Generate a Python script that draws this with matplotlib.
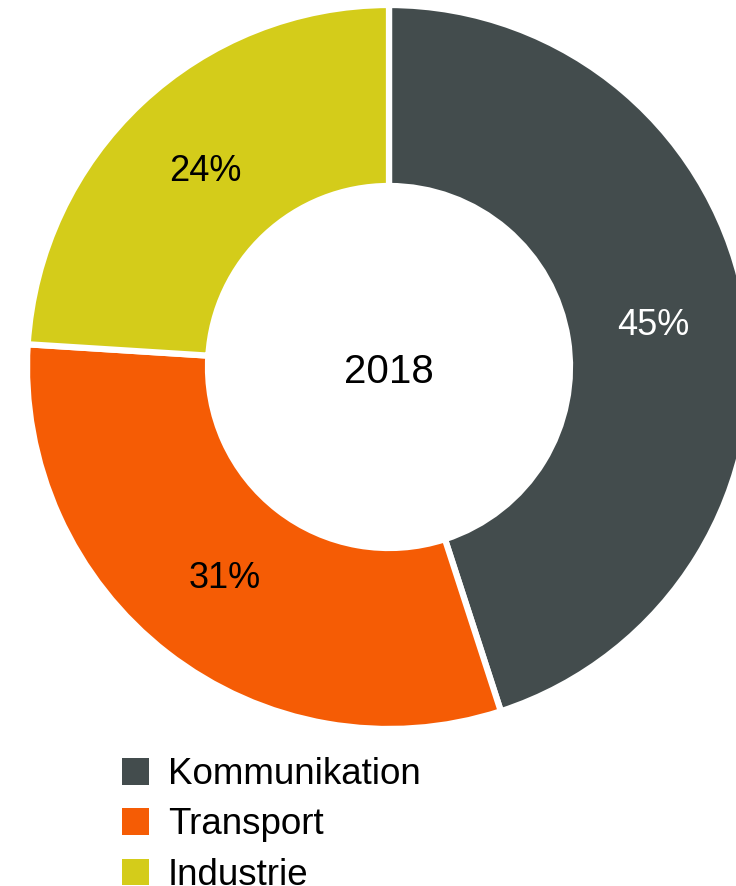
import matplotlib
matplotlib.use("Agg")
import matplotlib.pyplot as plt
from matplotlib.patches import Patch

categories = ["Kommunikation", "Transport", "Industrie"]
values = [45, 31, 24]
colors = ["#434c4d", "#f55c05", "#d4cc1a"]
center_label = "2018"

plt.rcParams['font.family'] = ['Liberation Sans', 'DejaVu Sans']

W, H = 736, 886
fig = plt.figure(figsize=(W / 100, H / 100), dpi=100)
R = 362
cx, cy = 389, 367
ax = fig.add_axes([(cx - R) / W, (H - cy - R) / H, 2 * R / W, 2 * R / H])

wedges, texts, autotexts = ax.pie(
    values, colors=colors, startangle=90, counterclock=False, radius=1,
    wedgeprops=dict(width=0.5, edgecolor='white', linewidth=4.5),
    autopct=lambda p: f"{p:.0f}%", pctdistance=0.74,
    textprops=dict(fontsize=26))
ax.set_xlim(-1, 1)
ax.set_ylim(-1, 1)
ax.set_aspect('equal')
ax.axis('off')
for t in autotexts:
    t.set_color('black')
autotexts[0].set_color('white')
for w in wedges:
    w.set_clip_on(False)

ax.text(0, -0.015, center_label, ha='center', va='center', fontsize=29, color='black')

handles = [Patch(facecolor=c, edgecolor='none') for c in colors]
leg = fig.legend(handles, categories, loc='upper left',
                 bbox_to_anchor=(122 / W, 1 - 757 / H), frameon=False,
                 fontsize=26.5, borderpad=0, borderaxespad=0,
                 handlelength=0.74, handleheight=0.74, handletextpad=0.5,
                 labelspacing=0.42)

fig.savefig("out.png", dpi=100)
